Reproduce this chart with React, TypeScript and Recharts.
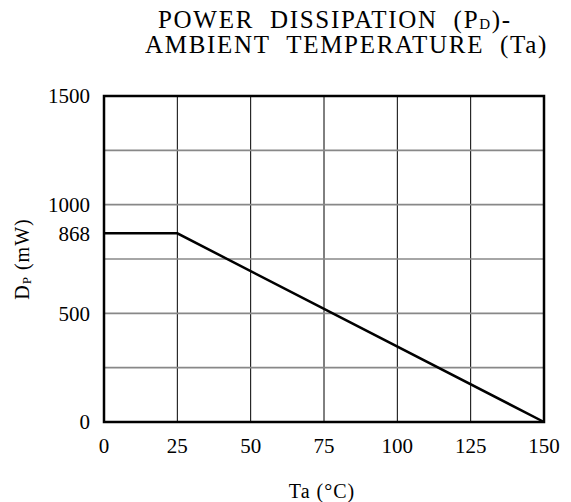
import { LineChart, Line, XAxis, YAxis, CartesianGrid, ReferenceArea } from 'recharts'

const temps = [0, 25, 150]
const power = [868, 868, 0]
const xTicks = [0, 25, 50, 75, 100, 125, 150]
const yTicks = [0, 500, 868, 1000, 1500]
const yGrid = [250, 500, 750, 1000, 1250]

const data = temps.map((t, i) => ({ ta: t, pd: power[i] }))

const FONT = '"Liberation Serif", "DejaVu Serif", serif'

const YLabel = () => (
  <text
    x={22}
    y={259}
    transform="rotate(-90 22 259)"
    textAnchor="middle"
    dominantBaseline="central"
    fontFamily={FONT}
    fontSize={20}
    fill="#000"
    letterSpacing={1}
  >
    D<tspan fontSize={13} dy={4}>P</tspan>
    <tspan dy={-4}> (mW)</tspan>
  </text>
)

const XLabel = () => (
  <text x={322} y={491} textAnchor="middle" dominantBaseline="central" fontFamily={FONT} fontSize={20} fill="#000" letterSpacing={1}>
    Ta (°C)
  </text>
)

export default function App() {
  return (
    <div style={{ position: 'absolute', left: 0, top: 0, width: 571, height: 502, background: '#fff' }}>
      <div
        style={{
          position: 'absolute',
          left: 140,
          width: 421,
          top: 7,
          fontFamily: FONT,
          fontSize: 25,
          lineHeight: '25px',
          letterSpacing: 1.7,
          color: '#000',
          whiteSpace: 'nowrap',
        }}
      >
        <div style={{ paddingLeft: 18 }}>
          POWER&nbsp; DISSIPATION&nbsp; (P<sub style={{ fontSize: 15, verticalAlign: -1, lineHeight: 0 }}>D</sub>)-
        </div>
        <div style={{ paddingLeft: 5 }}>AMBIENT&nbsp; TEMPERATURE&nbsp; (Ta)</div>
      </div>
      <LineChart width={571} height={502} data={data} margin={{ top: 96, right: 27, bottom: 0, left: 0 }}>
        <CartesianGrid horizontal={false} verticalValues={xTicks} stroke="#000" strokeWidth={1} />
        <CartesianGrid vertical={false} horizontalValues={yGrid} stroke="#888" strokeWidth={1.6} />
        <XAxis
          dataKey="ta"
          type="number"
          domain={[0, 150]}
          ticks={xTicks}
          height={80}
          tickLine={false}
          axisLine={false}
          tickSize={0}
          tickMargin={16}
          tick={{ fontFamily: FONT, fontSize: 21, fill: '#000' }}
          label={<XLabel />}
        />
        <YAxis
          type="number"
          domain={[0, 1500]}
          ticks={yTicks}
          width={104}
          tickLine={false}
          axisLine={false}
          tickSize={0}
          tickMargin={14}
          interval={0}
          tick={{ fontFamily: FONT, fontSize: 21, fill: '#000' }}
          label={<YLabel />}
        />
        <ReferenceArea x1={0} x2={150} y1={0} y2={1500} fill="none" stroke="#000" strokeWidth={2.5} ifOverflow="visible" />
        <Line
          dataKey="pd"
          stroke="#000"
          strokeWidth={2.5}
          dot={false}
          isAnimationActive={false}
          type="linear"
        />
      </LineChart>
    </div>
  )
}
